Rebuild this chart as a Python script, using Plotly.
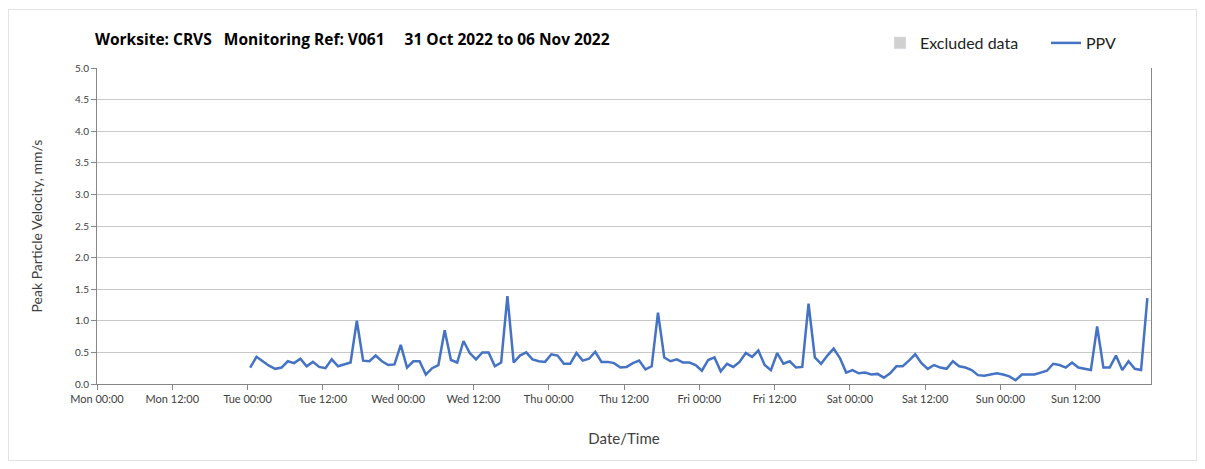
import pandas as pd
import plotly.graph_objects as go

# ---- data ----
start_time = "2022-11-01 00:25"
ppv_values = [
    0.26, 0.43, 0.36, 0.29, 0.24, 0.26, 0.36, 0.33, 0.40, 0.28, 0.35, 0.27,
    0.25, 0.39, 0.28, 0.31, 0.34, 1.00, 0.37, 0.36, 0.45, 0.36, 0.30, 0.31,
    0.62, 0.26, 0.36, 0.36, 0.15, 0.25, 0.30, 0.85, 0.38, 0.34, 0.68, 0.49,
    0.39, 0.50, 0.50, 0.28, 0.34, 1.39, 0.34, 0.45, 0.50, 0.39, 0.36, 0.35,
    0.47, 0.45, 0.32, 0.32, 0.49, 0.37, 0.40, 0.51, 0.35, 0.35, 0.33, 0.26,
    0.27, 0.33, 0.37, 0.23, 0.28, 1.13, 0.42, 0.36, 0.39, 0.34, 0.34, 0.30,
    0.21, 0.38, 0.42, 0.20, 0.32, 0.27, 0.35, 0.49, 0.43, 0.53, 0.30, 0.22,
    0.49, 0.32, 0.36, 0.26, 0.27, 1.27, 0.42, 0.32, 0.45, 0.56, 0.41, 0.18,
    0.22, 0.17, 0.18, 0.15, 0.16, 0.10, 0.17, 0.28, 0.28, 0.37, 0.47, 0.33,
    0.24, 0.30, 0.26, 0.24, 0.36, 0.28, 0.26, 0.22, 0.14, 0.13, 0.15, 0.17,
    0.15, 0.12, 0.06, 0.15, 0.15, 0.15, 0.18, 0.21, 0.32, 0.30, 0.26, 0.34,
    0.26, 0.24, 0.22, 0.91, 0.26, 0.26, 0.45, 0.22, 0.36, 0.24, 0.22, 1.36,
]
times = pd.date_range(start_time, periods=len(ppv_values), freq="h")

axis_start = "2022-10-31 00:00"
axis_end = "2022-11-07 00:00"
tick_times = pd.date_range(axis_start, "2022-11-06 12:00", freq="12h")
tick_labels = [t.strftime("%a %H:%M") for t in tick_times]
day_lines = pd.date_range(axis_start, axis_end, freq="D")
y_ticks = [i * 0.5 for i in range(11)]

title_text = "Worksite: CRVS   Monitoring Ref: V061     31 Oct 2022 to 06 Nov 2022"

FONT = "Lato"
W, H = 1189, 453
L, T, R, B = 89, 60, 46, 77
PW, PH = W - L - R, H - T - B

fig = go.Figure()

# legend-only entry for excluded data
fig.add_trace(go.Bar(x=[None], y=[None], name="Excluded data",
                     marker=dict(color="#d0d0d0"), showlegend=True, legend="legend"))
fig.add_trace(go.Scatter(x=times, y=ppv_values, mode="lines", name="PPV",
                         line=dict(color="#4472C4", width=2.5), legend="legend2"))

for d in day_lines:
    fig.add_vline(x=d, line=dict(color="#dcdcdc", width=1), layer="below")

legend_font = dict(size=16, color="#222222", family=FONT)
fig.update_layout(
    width=W, height=H,
    margin=dict(l=L, r=R, t=T, b=B),
    paper_bgcolor="white", plot_bgcolor="white",
    font=dict(family=FONT, color="#404040"),
    title=dict(text="<b>" + title_text + "</b>", x=87 / W, xanchor="left",
               y=1 - 32 / H, yanchor="middle",
               font=dict(size=15.5, color="#000000", family="Open Sans")),
    legend=dict(orientation="h", x=(872 - L) / PW, xanchor="left",
                y=1 + 25 / PH, yanchor="middle", font=legend_font,
                bgcolor="rgba(0,0,0,0)"),
    legend2=dict(orientation="h", x=(1038 - L) / PW, xanchor="left",
                 y=1 + 25 / PH, yanchor="middle", font=legend_font,
                 bgcolor="rgba(0,0,0,0)"),
    showlegend=True,
    shapes=[dict(type="rect", xref="paper", yref="paper",
                 x0=(0.5 - L) / PW, x1=(W - 0.5 - L) / PW,
                 y0=-(H - T - PH - 0.5) / PH, y1=1 + (T - 1.5) / PH,
                 line=dict(color="#e3e3e3", width=1), layer="below")],
)

fig.update_xaxes(
    type="date", range=[axis_start, axis_end],
    tickmode="array", tickvals=tick_times, ticktext=tick_labels,
    showgrid=False, ticks="outside", ticklen=5, tickcolor="#868686",
    showline=True, linecolor="#868686", linewidth=1,
    tickfont=dict(size=11, color="#404040"),
    title=dict(text="Date/Time", font=dict(size=15, color="#404040"), standoff=29),
    zeroline=False,
)
fig.update_yaxes(
    range=[0, 5], tickmode="array", tickvals=y_ticks,
    ticktext=[f"{v:.1f}" for v in y_ticks],
    showgrid=True, gridcolor="#c8c8c8", gridwidth=1,
    ticks="outside", ticklen=5, tickcolor="#868686",
    showline=True, linecolor="#868686", linewidth=1, mirror=True,
    tickfont=dict(size=10, color="#404040"),
    title=dict(text="Peak Particle Velocity, mm/s", font=dict(size=14, color="#404040"),
               standoff=29),
    zeroline=False,
)

fig.write_html("out.html")
